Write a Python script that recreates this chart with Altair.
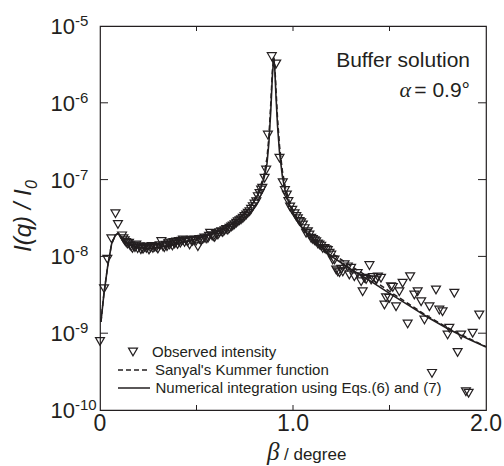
import altair as alt
import pandas as pd

# ---------------- data ----------------
obs_x = [0.000, 0.021, 0.038, 0.059, 0.080, 0.093, 0.114, 0.121, 0.128, 0.135, 0.142, 0.150, 0.156, 0.162,
         0.168, 0.175, 0.181, 0.188, 0.195, 0.205, 0.212, 0.218, 0.223, 0.231, 0.240, 0.247, 0.254, 0.262,
         0.268, 0.274, 0.283, 0.292, 0.300, 0.309, 0.318, 0.326, 0.333, 0.340, 0.347, 0.354, 0.361, 0.368,
         0.375, 0.381, 0.387, 0.395, 0.402, 0.409, 0.416, 0.423, 0.430, 0.438, 0.447, 0.455, 0.464, 0.472,
         0.480, 0.490, 0.498, 0.507, 0.515, 0.524, 0.533, 0.541, 0.550, 0.559, 0.565, 0.571, 0.580, 0.587,
         0.594, 0.602, 0.611, 0.619, 0.628, 0.636, 0.645, 0.654, 0.662, 0.671, 0.680, 0.688, 0.697, 0.706,
         0.714, 0.723, 0.731, 0.740, 0.749, 0.758, 0.766, 0.775, 0.783, 0.792, 0.801, 0.810, 0.818, 0.827,
         0.835, 0.841, 0.853, 0.861, 0.870, 0.890, 0.913, 0.930, 0.947, 0.958, 0.968, 0.976, 0.985, 0.996,
         1.008, 1.017, 1.025, 1.034, 1.042, 1.051, 1.060, 1.068, 1.077, 1.085, 1.094, 1.103, 1.112, 1.120,
         1.129, 1.137, 1.146, 1.154, 1.163, 1.172, 1.180, 1.189, 1.198, 1.206, 1.215, 1.224, 1.232, 1.241,
         1.250, 1.258, 1.267, 1.284, 1.292, 1.301, 1.318, 1.335, 1.353, 1.361, 1.370, 1.379, 1.396, 1.405,
         1.414, 1.431, 1.440, 1.456, 1.474, 1.482, 1.499, 1.508, 1.517, 1.534, 1.551, 1.568, 1.594, 1.607,
         1.629, 1.646, 1.664, 1.681, 1.707, 1.720, 1.741, 1.758, 1.775, 1.801, 1.810, 1.836, 1.853, 1.871,
         1.896, 1.910, 1.931, 1.965]
obs_y = [7.8e-10, 3.8e-9, 9.2e-9, 1.7e-8, 3.6e-8, 2.6e-8, 1.85e-8, 1.7e-8, 1.6e-8, 1.52e-8, 1.45e-8, 1.48e-8, 1.38e-8, 1.33e-8,
         1.27e-8, 1.36e-8, 1.3e-8, 1.41e-8, 1.26e-8, 1.34e-8, 1.22e-8, 1.29e-8, 1.24e-8, 1.31e-8, 1.27e-8, 1.33e-8, 1.21e-8, 1.29e-8,
         1.35e-8, 1.27e-8, 1.32e-8, 1.31e-8, 1.25e-8, 1.38e-8, 1.56e-8, 1.34e-8, 1.3e-8, 1.4e-8, 1.34e-8, 1.46e-8, 1.41e-8, 1.5e-8,
         1.37e-8, 1.52e-8, 1.45e-8, 1.54e-8, 1.43e-8, 1.56e-8, 1.49e-8, 1.58e-8, 1.64e-8, 1.52e-8, 1.6e-8, 1.55e-8, 1.41e-8, 1.62e-8,
         1.57e-8, 1.64e-8, 1.58e-8, 1.34e-8, 1.66e-8, 1.6e-8, 1.67e-8, 1.74e-8, 1.69e-8, 1.72e-8, 1.83e-8, 2.0e-8, 1.86e-8, 1.8e-8,
         1.77e-8, 1.93e-8, 1.9e-8, 2.03e-8, 2.1e-8, 2.05e-8, 2.16e-8, 2.25e-8, 2.2e-8, 2.32e-8, 2.42e-8, 2.49e-8, 2.58e-8, 2.7e-8,
         2.82e-8, 2.92e-8, 3.0e-8, 3.13e-8, 3.3e-8, 3.46e-8, 3.65e-8, 3.83e-8, 4.1e-8, 4.45e-8, 4.8e-8, 5.16e-8, 6.0e-8, 6.6e-8,
         7.3e-8, 7.7e-8, 1.04e-7, 1.33e-7, 3.8e-7, 4.0e-6, 3.2e-6, 1.9e-7, 9.1e-8, 7.2e-8, 6.3e-8, 5.2e-8, 4.4e-8, 4.0e-8,
         3.6e-8, 3.3e-8, 3.1e-8, 2.85e-8, 2.75e-8, 2.56e-8, 2.3e-8, 2.0e-8, 2.1e-8, 1.9e-8, 1.72e-8, 1.66e-8, 1.6e-8, 1.55e-8,
         1.45e-8, 1.41e-8, 1.36e-8, 1.27e-8, 1.27e-8, 1.22e-8, 1.19e-8, 1.1e-8, 1.04e-8, 8.97e-9, 9.0e-9, 6.65e-9, 6.3e-9, 6.14e-9,
         6.8e-9, 6.3e-9, 7.8e-9, 7.3e-9, 5.73e-9, 7.0e-9, 5.44e-9, 6.0e-9, 4.69e-9, 3.47e-9, 5.2e-9, 5.0e-9, 7.6e-9, 4.93e-9,
         5.3e-9, 4.93e-9, 5.4e-9, 5.19e-9, 2.33e-9, 2.9e-9, 2.84e-9, 4.03e-9, 3.95e-9, 2.21e-9, 3.47e-9, 4.47e-9, 1.32e-9, 5.44e-9,
         3.14e-9, 3.47e-9, 2.57e-9, 1.49e-9, 2.21e-9, 3.0e-10, 3.65e-9, 2.0e-9, 1.9e-9, 9.5e-10, 1.16e-9, 3.31e-9, 5.6e-10, 9.5e-10,
         1.73e-10, 1.65e-10, 9.98e-10, 1.73e-9]

line_x = [0.005, 0.02, 0.04, 0.06, 0.08, 0.095, 0.11, 0.13, 0.16, 0.2, 0.25, 0.3, 0.35, 0.4, 0.45, 0.5, 0.55, 0.6,
          0.65, 0.7, 0.75, 0.78, 0.81, 0.83, 0.85, 0.865, 0.875, 0.885, 0.893, 0.9, 0.905, 0.912, 0.92, 0.93,
          0.945, 0.96, 0.98, 1.0, 1.03, 1.06, 1.1, 1.15, 1.2, 1.3, 1.4, 1.5, 1.6, 1.7, 1.8, 1.9, 2.0]
numerical_y = [1.4e-9, 3.2e-9, 7.5e-9, 1.45e-8, 1.9e-8, 2.0e-8, 1.8e-8, 1.55e-8, 1.38e-8, 1.3e-8, 1.27e-8, 1.3e-8,
               1.37e-8, 1.47e-8, 1.58e-8, 1.7e-8, 1.85e-8, 2.05e-8, 2.35e-8, 2.8e-8, 3.6e-8, 4.4e-8, 5.8e-8, 7.3e-8,
               1.05e-7, 1.6e-7, 3.0e-7, 8.0e-7, 2.2e-6, 3.8e-6, 3.0e-6, 1.2e-6, 5.0e-7, 2.3e-7, 1.1e-7, 7.0e-8,
               4.8e-8, 3.7e-8, 2.7e-8, 2.15e-8, 1.75e-8, 1.3e-8, 1.0e-8, 6.8e-9, 4.8e-9, 3.3e-9, 2.3e-9, 1.6e-9,
               1.15e-9, 8.6e-10, 6.6e-10]
kummer_y = [1.4e-9, 3.2e-9, 7.5e-9, 1.45e-8, 1.9e-8, 2.0e-8, 1.8e-8, 1.55e-8, 1.38e-8, 1.3e-8, 1.27e-8, 1.3e-8,
            1.37e-8, 1.47e-8, 1.58e-8, 1.7e-8, 1.86e-8, 2.07e-8, 2.38e-8, 2.85e-8, 3.7e-8, 4.6e-8, 6.2e-8, 8.0e-8,
            1.15e-7, 1.9e-7, 3.6e-7, 1.0e-6, 2.6e-6, 3.9e-6, 3.4e-6, 1.5e-6, 6.2e-7, 2.8e-7, 1.3e-7, 8.0e-8,
            5.3e-8, 4.0e-8, 2.9e-8, 2.3e-8, 1.85e-8, 1.4e-8, 1.1e-8, 7.5e-9, 5.2e-9, 3.5e-9, 2.4e-9, 1.65e-9,
            1.18e-9, 8.8e-10, 6.7e-10]

x_ticks = [0.5, 1.0, 1.5]
x_tick_labels = ["0", "1.0", "2.0"]
x_label_pos = [0.0, 1.0, 2.0]
y_ticks = [1e-9, 1e-8, 1e-7, 1e-6]
y_label_pos = [1e-5, 1e-6, 1e-7, 1e-8, 1e-9, 1e-10]
y_label_exp = ["-5", "-6", "-7", "-8", "-9", "-10"]

# ---------------- layout ----------------
W, H = 386, 384
FONT = "Liberation Sans"
SERIF = "Liberation Serif"
INK = "#231f20"
xs = alt.Scale(domain=[0, 2], nice=False, zero=False)
ys = alt.Scale(type="log", domain=[1e-10, 1e-5], nice=False)

obs = pd.DataFrame({"x": obs_x, "y": obs_y})
lines = pd.DataFrame({"x": line_x, "num": numerical_y, "kum": kummer_y})

points = alt.Chart(obs).mark_point(shape="triangle-down", filled=False, color=INK,
                                   strokeWidth=1.2, size=80, opacity=1).encode(
    x=alt.X("x:Q", scale=xs, axis=None), y=alt.Y("y:Q", scale=ys, axis=None))

solid = alt.Chart(lines).mark_line(color=INK, strokeWidth=1.6).encode(
    x=alt.X("x:Q", scale=xs, axis=None), y=alt.Y("num:Q", scale=ys, axis=None))
dashed = alt.Chart(lines).mark_line(color=INK, strokeWidth=1.5, strokeDash=[5, 3]).encode(
    x=alt.X("x:Q", scale=xs, axis=None), y=alt.Y("kum:Q", scale=ys, axis=None))

xt = pd.DataFrame({"x": x_ticks})
yt = pd.DataFrame({"y": y_ticks})
tick_bottom = alt.Chart(xt).mark_rule(color=INK, strokeWidth=1).encode(
    x=alt.X("x:Q", scale=xs, axis=None), y=alt.value(H), y2=alt.value(H - 5))
tick_top = alt.Chart(xt).mark_rule(color=INK, strokeWidth=1).encode(
    x=alt.X("x:Q", scale=xs, axis=None), y=alt.value(0), y2=alt.value(5))
tick_left = alt.Chart(yt).mark_rule(color=INK, strokeWidth=1).encode(
    y=alt.Y("y:Q", scale=ys, axis=None), x=alt.value(0), x2=alt.value(8))
tick_right = alt.Chart(yt).mark_rule(color=INK, strokeWidth=1).encode(
    y=alt.Y("y:Q", scale=ys, axis=None), x=alt.value(W - 8), x2=alt.value(W))

xl = pd.DataFrame({"x": x_label_pos, "t": x_tick_labels})
x_labels = alt.Chart(xl).mark_text(font=FONT, fontSize=23, align="center", baseline="alphabetic",
                                   color=INK).encode(
    x=alt.X("x:Q", scale=xs, axis=None), y=alt.value(H + 21), text="t:N")

yl = pd.DataFrame({"y": y_label_pos, "e": y_label_exp})
y_base = alt.Chart(yl).mark_text(font=FONT, fontSize=22, align="right", baseline="alphabetic",
                                 dy=8, color=INK, text="10").encode(
    y=alt.Y("y:Q", scale=ys, axis=None), x=alt.value(-25))
y_exp = alt.Chart(yl).mark_text(font=FONT, fontSize=15, align="left", baseline="alphabetic",
                                dy=0, color=INK).encode(
    y=alt.Y("y:Q", scale=ys, axis=None), x=alt.value(-25), text="e:N")


def annot(text, x, y, size, align="left", font=FONT, style="normal", angle=0, baseline="alphabetic"):
    return alt.Chart(pd.DataFrame({"a": [0]})).mark_text(
        text=text, font=font, fontSize=size, align=align, baseline=baseline,
        fontStyle=style, angle=angle, color=INK).encode(x=alt.value(x), y=alt.value(y))


def legend_line(y, dash):
    kw = {"strokeDash": dash} if dash else {}
    return alt.Chart(pd.DataFrame({"a": [0]})).mark_rule(color=INK, strokeWidth=1.5, **kw).encode(
        x=alt.value(18), x2=alt.value(50), y=alt.value(y))


legend_pt = alt.Chart(pd.DataFrame({"a": [0]})).mark_point(
    shape="triangle-down", filled=False, color=INK, strokeWidth=1.2, size=80, opacity=1).encode(
    x=alt.value(33), y=alt.value(326))

layers = [
    dashed, solid, points,
    tick_bottom, tick_top, tick_left, tick_right,
    x_labels, y_base, y_exp,
    annot("Buffer solution", 370, 41, 21, align="right"),
    annot("= 0.9°", 370, 71, 21, align="right"),
    annot("α", 311, 71, 22, align="right", font=SERIF, style="italic"),
    annot("β", 167, 434, 25, font=SERIF, style="italic"),
    annot("/ degree", 184, 434, 17),
    annot("I(q) / I", -69, 226, 24, style="italic", angle=270),
    annot("0", -63, 163, 16, style="italic", angle=270),
    legend_pt,
    annot("Observed intensity", 52, 331, 15),
    legend_line(344, [5, 3]),
    annot("Sanyal's Kummer function", 55, 349, 15),
    legend_line(362, None),
    annot("Numerical integration using Eqs.(6) and (7)", 55.5, 367, 15),
]

chart = alt.layer(*layers).properties(
    width=W, height=H,
    padding={"left": 100, "top": 26, "right": 18, "bottom": 56},
    autosize=alt.AutoSizeParams(type="none"),
    background="white",
).configure_view(stroke=INK, strokeWidth=1.2)

chart.save("out.html", embed_options={"renderer": "svg", "actions": False})
